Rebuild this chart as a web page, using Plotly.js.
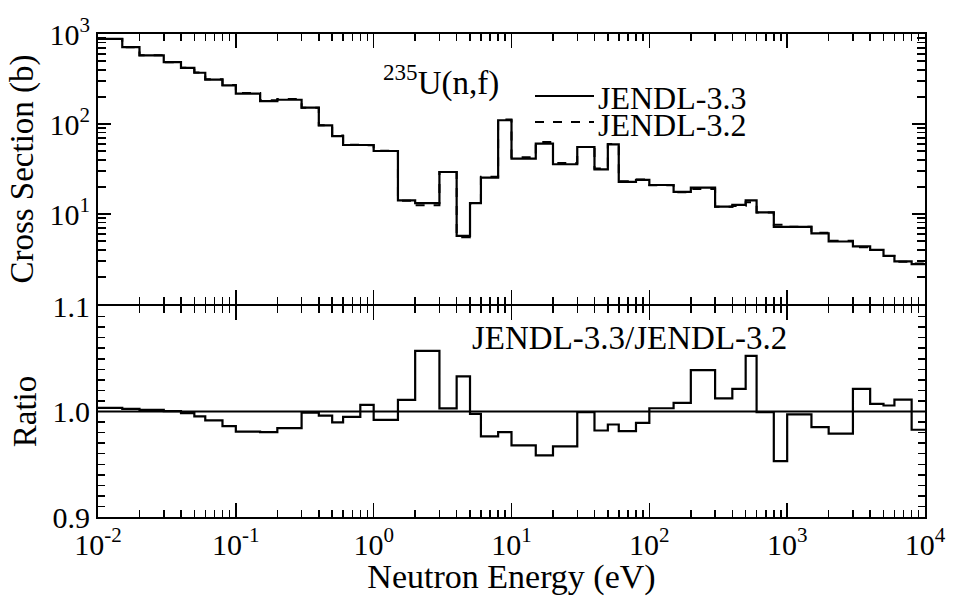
<!DOCTYPE html>
<html>
<head>
<meta charset="utf-8">
<script src="https://cdn.plot.ly/plotly-3.0.1.min.js"></script>
<style>html,body{margin:0;padding:0;background:#fff;}#chart{width:958px;height:596px;}</style>
</head>
<body>
<div id="chart"></div>
<script>
// Energy bin edges (eV)
const binEdges = [0.01,0.015,0.02,0.03,0.04,0.05,0.06,0.08,
  0.1,0.15,0.2,0.3,0.4,0.5,0.6,0.8,
  1,1.5,2,3,4,5,6,8,
  10,15,20,30,40,50,60,80,
  100,150,200,300,400,500,600,800,
  1000,1500,2000,3000,4000,5000,6000,8000,
  10000];
// JENDL-3.3 group cross sections (b)
const jendl33 = [883,713,580,486,421,371,312,268,
  217,180,186,152,96.6,73.5,58.4,58.4,
  50.1,14.2,13.2,29.3,5.7,13.2,25.4,110,
  41.2,60.5,35.7,55.5,31.4,59.4,22.7,23.9,
  21.0,17.6,19.6,12.1,12.6,14.2,10.4,7.2,
  7.2,6.08,4.95,4.36,4.0,3.43,2.97,2.77];
// JENDL-3.2 group cross sections (b)
const jendl32 = [880,711,579,486,422,373,315,272,
  221,184,189,152,97.0,74.3,58.7,58.0,
  50.5,14.0,12.5,29.2,5.5,13.2,26.0,112,
  42.6,63.1,36.9,55.5,32.0,60.1,23.1,24.2,
  20.9,17.5,18.9,12.0,12.3,13.5,10.4,7.6,
  7.2,6.17,5.06,4.27,3.97,3.41,2.94,2.82];
// Ratio JENDL-3.3/JENDL-3.2
const ratio = [1.0035,1.0025,1.0016,1.0003,0.9984,0.9953,0.9915,0.9862,
  0.981,0.9805,0.9843,0.999,0.996,0.9897,0.995,1.0063,
  0.9921,1.011,1.0575,1.003,1.0333,0.9978,0.9764,0.9805,
  0.9679,0.9585,0.967,0.9993,0.982,0.9877,0.9814,0.9893,
  1.0031,1.0082,1.0393,1.0125,1.0214,1.0528,0.9995,0.953,
  0.9972,0.9852,0.979,1.0214,1.0072,1.0057,1.0113,0.9827];
const xTickVals = [0.01,0.1,1,10,100,1000,10000];
const xTickText = ['10<sup>-2</sup>','10<sup>-1</sup>','10<sup>0</sup>','10<sup>1</sup>','10<sup>2</sup>','10<sup>3</sup>','10<sup>4</sup>'];
const yTickVals = [10,100,1000];
const yTickText = ['10<sup>1</sup>','10<sup>2</sup>','10<sup>3</sup>'];
const rTickVals = [0.9,1.0,1.1];
const rTickText = ['0.9','1.0','1.1'];

function step(v){ return v.concat([v[v.length-1]]); }
const minorX = []; for (let e=-2;e<4;e++) for (let m=2;m<=9;m++) minorX.push(m*Math.pow(10,e));
const minorY = []; for (let e=0;e<3;e++) for (let m=2;m<=9;m++) minorY.push(m*Math.pow(10,e));

const FONT = '"Liberation Serif", "Times New Roman", Times, serif';
const L = 98, R = 33, T = 34, B = 79, W = 958, H = 596;
const pw = W-L-R, ph = H-T-B;
const split = (517-305)/ph;
const px = x => (x-L)/pw;
const py = y => (H-B-y)/ph;

const traces = [
  {x: binEdges, y: step(jendl32), name: 'JENDL-3.2', type: 'scatter', mode: 'lines',
   line: {shape: 'hv', color: '#000', width: 2, dash: 'dash'}, xaxis: 'x', yaxis: 'y'},
  {x: binEdges, y: step(jendl33), name: 'JENDL-3.3', type: 'scatter', mode: 'lines',
   line: {shape: 'hv', color: '#000', width: 2.2}, xaxis: 'x', yaxis: 'y'},
  {x: binEdges, y: step(ratio), name: 'JENDL-3.3/JENDL-3.2', type: 'scatter', mode: 'lines',
   line: {shape: 'hv', color: '#000', width: 2.2}, xaxis: 'x2', yaxis: 'y2'}
];

const tickFont = {family: FONT, size: 30, color: '#000'};
const common = {showline: true, linecolor: '#000', linewidth: 2, mirror: 'ticks', ticks: 'inside',
  tickcolor: '#000', tickwidth: 1.5, showgrid: false, zeroline: false, tickfont: tickFont};

const layout = {
  width: W, height: H, margin: {l: L, r: R, t: T, b: B},
  paper_bgcolor: '#fff', plot_bgcolor: '#fff', showlegend: false,
  font: {family: FONT, color: '#000'},
  xaxis: Object.assign({}, common, {type: 'log', range: [-2, 4], anchor: 'y', domain: [0,1],
    tickmode: 'array', tickvals: xTickVals, ticktext: xTickText, showticklabels: false, ticklen: 14,
    minor: {tickmode: 'array', tickvals: minorX, ticks: 'inside', ticklen: 7, tickwidth: 1.5, tickcolor: '#000', showgrid: false}}),
  xaxis2: Object.assign({}, common, {type: 'log', range: [-2, 4], anchor: 'y2', domain: [0,1],
    tickmode: 'array', tickvals: xTickVals, ticktext: xTickText, ticklen: 14,
    minor: {tickmode: 'array', tickvals: minorX, ticks: 'inside', ticklen: 7, tickwidth: 1.5, tickcolor: '#000', showgrid: false},
    title: {text: 'Neutron Energy (eV)', font: {family: FONT, size: 34, color: '#000'}, standoff: 1}}),
  yaxis: Object.assign({}, common, {type: 'log', range: [0, 3], anchor: 'x', domain: [split + 1/ph, 1],
    tickmode: 'array', tickvals: yTickVals, ticktext: yTickText, ticklen: 13,
    minor: {tickmode: 'array', tickvals: minorY, ticks: 'inside', ticklen: 8, tickwidth: 1.5, tickcolor: '#000', showgrid: false},
    title: {text: 'Cross Section (b)', font: {family: FONT, size: 33, color: '#000'}, standoff: 6}}),
  yaxis2: Object.assign({}, common, {range: [0.9, 1.1], anchor: 'x2', domain: [0, split - 1/ph],
    tickmode: 'array', tickvals: rTickVals, ticktext: rTickText, ticklen: 12,
    minor: {dtick: 0.01, ticks: 'inside', ticklen: 7, tickwidth: 1.5, tickcolor: '#000', showgrid: false},
    title: {text: 'Ratio', font: {family: FONT, size: 33, color: '#000'}, standoff: 6}}),
  shapes: [
    {type: 'line', xref: 'paper', yref: 'y2', x0: 0, x1: 1, y0: 1, y1: 1, line: {color: '#000', width: 1.8}},
    {type: 'line', xref: 'paper', yref: 'paper', x0: px(535), x1: px(594), y0: py(96), y1: py(96), line: {color: '#000', width: 2}},
    {type: 'line', xref: 'paper', yref: 'paper', x0: px(535), x1: px(594), y0: py(122), y1: py(122), line: {color: '#000', width: 2, dash: 'dash'}}
  ],
  annotations: [
    {xref: 'paper', yref: 'paper', x: px(381), y: py(80), xanchor: 'left', yanchor: 'middle', showarrow: false,
     text: '<sup>235</sup>U(n,f)', font: {family: FONT, size: 33, color: '#000'}},
    {xref: 'paper', yref: 'paper', x: px(596), y: py(98), xanchor: 'left', yanchor: 'middle', showarrow: false,
     height: 25, text: 'JENDL-3.3', font: {family: FONT, size: 32, color: '#000'}},
    {xref: 'paper', yref: 'paper', x: px(596), y: py(124), xanchor: 'left', yanchor: 'middle', showarrow: false,
     height: 25, text: 'JENDL-3.2', font: {family: FONT, size: 32, color: '#000'}},
    {xref: 'paper', yref: 'paper', x: px(470), y: py(338), xanchor: 'left', yanchor: 'middle', showarrow: false,
     text: 'JENDL-3.3/JENDL-3.2', font: {family: FONT, size: 33, color: '#000'}}
  ]
};
Plotly.newPlot('chart', traces, layout, {displayModeBar: false, staticPlot: true});
</script>
</body>
</html>
